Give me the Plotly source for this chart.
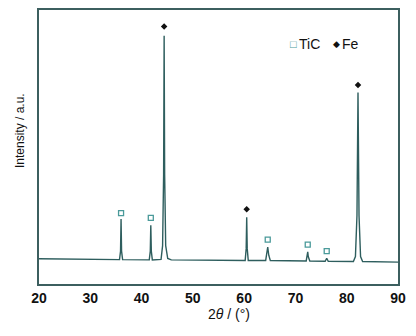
import plotly.graph_objects as go

# XRD pattern points
two_theta = [20, 30, 35.7, 35.9, 36.0, 36.1, 36.3, 41.5, 41.7, 41.8, 41.9, 42.1,
             43.8, 44.1, 44.3, 44.4, 44.5, 44.7, 45.1, 45.8,
             60.2, 60.4, 60.5, 60.6, 60.8, 64.2, 64.4, 64.6, 64.8, 65.1,
             72.1, 72.3, 72.4, 72.5, 72.8, 75.8, 76.1, 76.4,
             81.3, 81.7, 82.0, 82.2, 82.4, 82.7, 83.1, 90]
intensity = [9.2, 9.0, 8.9, 12, 23.7, 12, 8.9, 8.8, 12, 21.4, 12, 8.8,
             9.0, 14, 40, 90.6, 40, 14, 9.3, 8.8,
             8.6, 13, 24.4, 13, 8.6, 8.6, 10.5, 13.5, 10.5, 8.6,
             8.4, 10, 11.7, 10, 8.4, 8.3, 9.4, 8.3,
             8.2, 10, 25, 69.9, 25, 10, 8.2, 8.0]

tic_x = [36.0, 41.8, 64.6, 72.4, 76.1]
tic_y = [25.9, 24.1, 16.2, 14.4, 12.0]
fe_x = [44.4, 60.5, 82.2]
fe_y = [94.0, 27.3, 72.6]

x_ticks = [20, 30, 40, 50, 60, 70, 80, 90]

# page body has an 8px margin; figure sized to fill the rest of the window
W, H = 408, 328
L, R, T, B = 31, 18, 2, 52

fig = go.Figure()
fig.add_trace(go.Scatter(x=two_theta, y=intensity, mode="lines",
                         line=dict(color="#2e5e5e", width=1.4), showlegend=False))
fig.add_trace(go.Scatter(x=tic_x, y=tic_y, mode="markers", name="TiC", showlegend=False,
                         marker=dict(symbol="square-open", size=5,
                                     color="#4a9a9a", line=dict(width=1.3))))
fig.add_trace(go.Scatter(x=fe_x, y=fe_y, mode="markers", name="Fe", showlegend=False,
                         marker=dict(symbol="diamond", size=5, color="#111111")))

pw = W - L - R
ph = H - T - B

def px_x(x):  # window px -> paper x
    return (x - 8 - L) / pw

def px_y(y):  # window px -> paper y
    return 1 - (y - 8 - T) / ph

def note(text, x, y, size, xanchor="left", color="#111111", angle=0):
    return dict(text=text, x=px_x(x), y=px_y(y), textangle=angle,
                xref="paper", yref="paper", xanchor=xanchor, yanchor="middle",
                showarrow=False, font=dict(size=size, color=color))

annotations = [
    note("□", 293, 44, 11, xanchor="center", color="#4a9a9a"),
    note("TiC", 297, 44, 14),
    note("◆", 336, 44, 9, xanchor="center"),
    note("Fe", 340, 44, 14),
    note("Intensity / a.u.", 20, 131, 12, xanchor="center", angle=-90),
    note("2<i>θ</i> / (°)", 229, 314, 14, xanchor="center"),
]

fig.update_layout(
    width=W, height=H,
    margin=dict(l=L, r=R, t=T, b=B),
    paper_bgcolor="white", plot_bgcolor="white",
    font=dict(family="Arial, Liberation Sans, sans-serif", color="#111111"),
    showlegend=False,
    annotations=annotations,
    xaxis=dict(range=[20, 90], tickvals=x_ticks,
               ticktext=[f"<b>{t}</b>" for t in x_ticks],
               tickfont=dict(size=14), showgrid=False, zeroline=False,
               showline=True, linecolor="#3c5f5f", linewidth=1.5, mirror=True,
               ticks="", ticklen=0, automargin=False),
    yaxis=dict(range=[0, 100], showticklabels=False, showgrid=False, zeroline=False,
               showline=True, linecolor="#3c5f5f", linewidth=1.5, mirror=True,
               ticks="", automargin=False),
)

fig.write_html("out.html")
